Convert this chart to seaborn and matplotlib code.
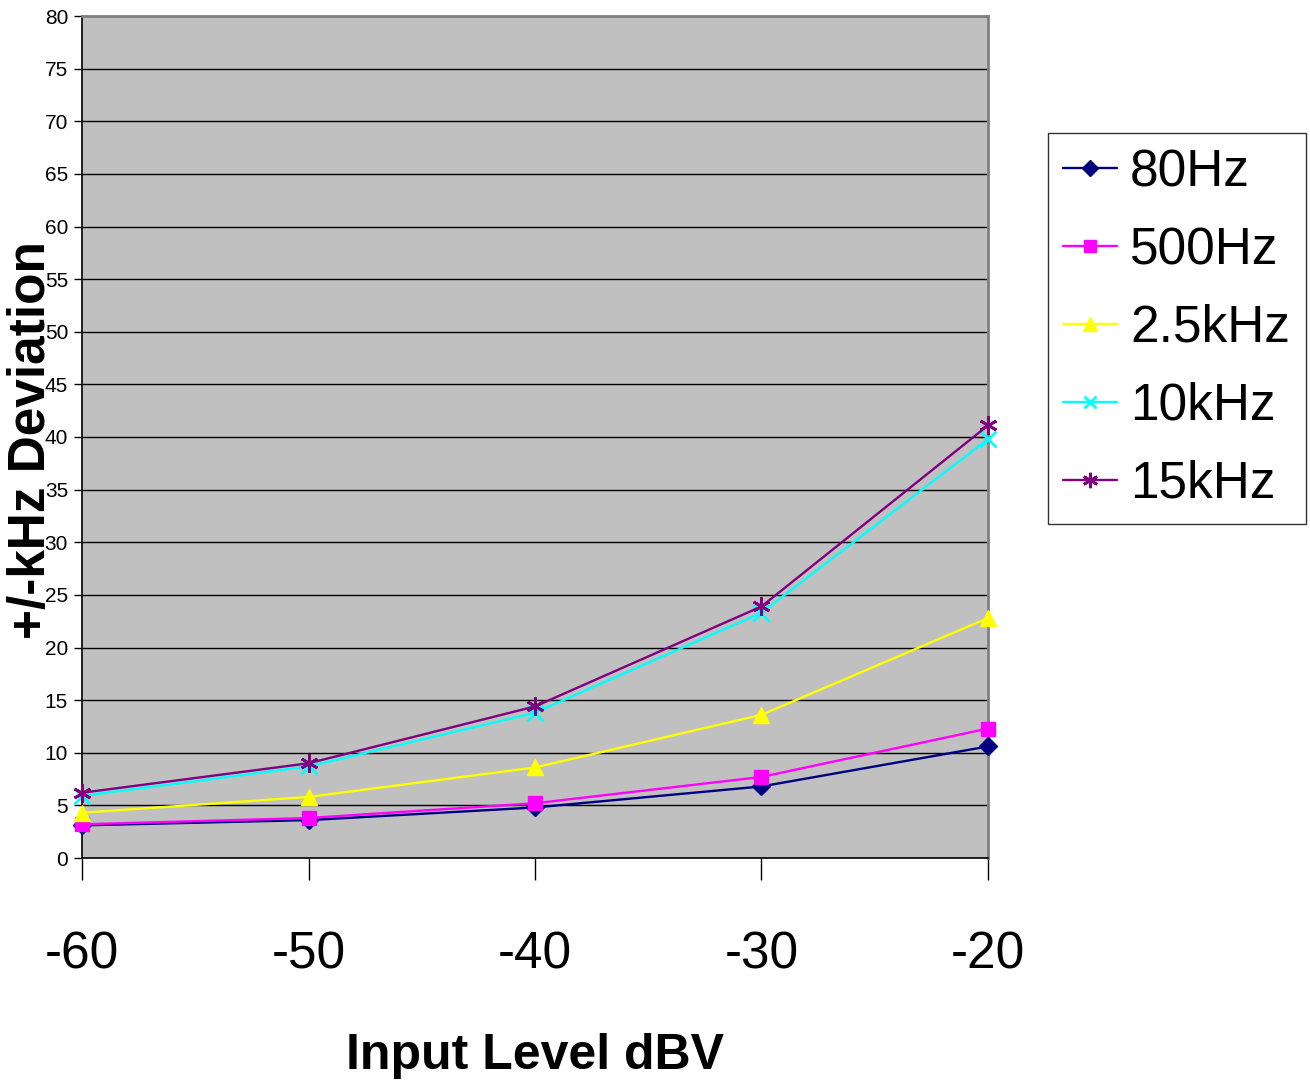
import matplotlib
matplotlib.use("Agg")
import matplotlib.pyplot as plt
import pandas as pd
import seaborn as sns

# values
input_levels = [-60, -50, -40, -30, -20]
series_names = ["80Hz", "500Hz", "2.5kHz", "10kHz", "15kHz"]
dev_80hz = [3.1, 3.6, 4.8, 6.8, 10.6]
dev_500hz = [3.2, 3.8, 5.2, 7.7, 12.3]
dev_2k5hz = [4.3, 5.8, 8.6, 13.6, 22.8]
dev_10khz = [5.9, 8.7, 13.8, 23.3, 39.8]
dev_15khz = [6.2, 9.0, 14.4, 23.9, 41.1]
y_ticks = list(range(0, 81, 5))

colors = {"80Hz": "#000080", "500Hz": "#FF00FF", "2.5kHz": "#FFFF00",
          "10kHz": "#00FFFF", "15kHz": "#800080"}
markers = {"80Hz": "D", "500Hz": "s", "2.5kHz": "^", "10kHz": "x",
           "15kHz": (6, 2, 0)}
sizes = {"80Hz": 9.5, "500Hz": 10.5, "2.5kHz": 12, "10kHz": 11, "15kHz": 13}

frames = []
for name, vals in zip(series_names,
                      [dev_80hz, dev_500hz, dev_2k5hz, dev_10khz, dev_15khz]):
    frames.append(pd.DataFrame({"level": input_levels, "dev": vals, "series": name}))
df = pd.concat(frames, ignore_index=True)

sns.set_style("white")
plt.rcParams["font.family"] = ["Liberation Sans", "DejaVu Sans"]
plt.rcParams["text.color"] = "black"
plt.rcParams["axes.labelcolor"] = "black"

fig = plt.figure(figsize=(13.1, 10.8), dpi=100)
ax = fig.add_axes([82 / 1310, 1 - 858 / 1080, (988 - 82) / 1310, (858 - 16) / 1080])
ax.set_facecolor("#C0C0C0")

# seaborn refuses to mix filled and line markers in one call, so one call per series
for name in series_names:
    sub = df[df["series"] == name]
    mew = 2 if name in ("10kHz", "15kHz") else 1
    sns.lineplot(data=sub, x="level", y="dev", color=colors[name],
                 marker=markers[name], markersize=sizes[name],
                 markeredgecolor=colors[name], markeredgewidth=mew,
                 linewidth=1.7, ax=ax, label=name, legend=False,
                 clip_on=False, zorder=3)

ax.set_xlim(-60, -20)
ax.set_ylim(0, 80)
ax.set_xticks(input_levels)
ax.set_yticks(y_ticks)
ax.set_xticklabels([str(v) for v in input_levels], fontsize=37)
ax.set_yticklabels([str(v) for v in y_ticks], fontsize=15)
ax.tick_params(axis="x", direction="out", length=16, width=1, pad=36, colors="black")
ax.tick_params(axis="y", direction="out", length=6, width=1, pad=4, colors="black")
ax.xaxis.set_ticks_position("bottom")
ax.yaxis.set_ticks_position("left")

ax.grid(axis="y", color="black", linewidth=1)
ax.set_axisbelow(True)
for side in ["left", "bottom"]:
    ax.spines[side].set_color("black")
    ax.spines[side].set_linewidth(1.2)
for side in ["right", "top"]:
    ax.spines[side].set_color("#808080")
    ax.spines[side].set_linewidth(2)

ax.set_xlabel("Input Level dBV", fontsize=36, fontweight="bold")
ax.xaxis.set_label_coords(0.5, (858 - 1033) / 842)
ax.set_ylabel("+/-kHz Deviation", fontsize=37, fontweight="bold")
ax.yaxis.set_label_coords((56 - 82) / 906, (858 - 440) / 842)

handles = []
for name in series_names:
    h, = ax.plot([], [], color=colors[name], marker=markers[name],
                 markersize=sizes[name] * 0.85, markeredgecolor=colors[name],
                 markeredgewidth=2 if name in ("10kHz", "15kHz") else 1,
                 linewidth=1.7)
    handles.append(h)
leg = fig.legend(handles, series_names, loc="upper left",
                 bbox_to_anchor=(1048 / 1310, 1 - 133 / 1080),
                 fontsize=37, frameon=True, fancybox=False, edgecolor="black",
                 handlelength=1.05, handletextpad=0.25, labelspacing=0.56,
                 borderpad=0.3, borderaxespad=0)
leg.get_frame().set_linewidth(1)

fig.savefig("out.png", dpi=100)
